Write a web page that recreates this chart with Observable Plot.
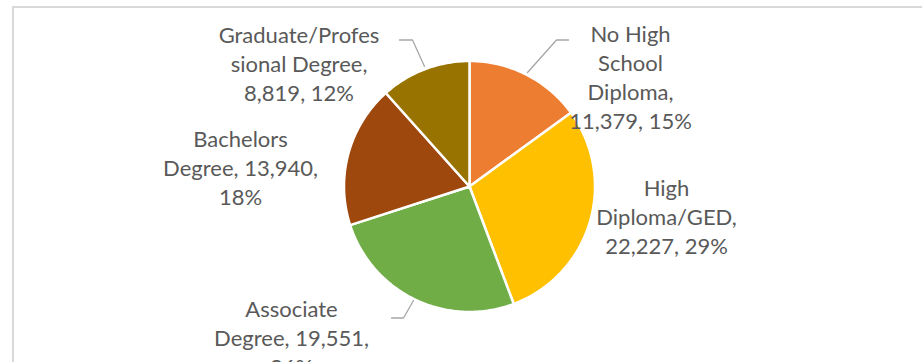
<!DOCTYPE html>
<html>
<head>
<meta charset="utf-8">
<script src="https://cdn.jsdelivr.net/npm/d3@7"></script>
<script src="https://cdn.jsdelivr.net/npm/@observablehq/plot@0.6"></script>
<style>
  html, body { margin: 0; padding: 0; background: #fff; overflow: hidden; }
  #wrap { position: relative; width: 922px; height: 362px; overflow: hidden; }
  #border { position: absolute; left: 12px; top: 6px; width: 940px; height: 400px;
            border-top: 2px solid #d9d9d9; border-left: 2px solid #d9d9d9; box-sizing: border-box; }
  #chart { position: absolute; left: 0; top: 0; }
</style>
</head>
<body>
<div id="wrap"><div id="border"></div><div id="chart"></div></div>
<script>
// ---- data ----
const categories = ["No High School Diploma", "High Diploma/GED", "Associate Degree", "Bachelors Degree", "Graduate/Professional Degree"];
const values = [11379, 22227, 19551, 13940, 8819];
const percents = ["15%", "29%", "26%", "18%", "12%"];
const labelTexts = [
  "No High\nSchool\nDiploma,\n11,379, 15%",
  "High\nDiploma/GED,\n22,227, 29%",
  "Associate\nDegree, 19,551,\n26%",
  "Bachelors\nDegree, 13,940,\n18%",
  "Graduate/Profes\nsional Degree,\n8,819, 12%"
];
const colors = ["#ED7D31", "#FFC000", "#70AD47", "#9E480E", "#997300"];

// ---- layout (pixel space) ----
const W = 922, H = 362;
const cx = 469, cy = 186, R = 125.5;
const labelPos = [[630, 76], [666, 215], [291, 336.5], [240, 166.5], [298.5, 62]];
const leaders = [
  {i: 0, pts: [[568, 39.5], [556, 39.5], [527, 72]]},
  {i: 2, pts: [[391, 317.5], [403, 317.5], [413, 300]]},
  {i: 4, pts: [[399, 39.5], [412, 39.5], [424, 66]]}
];

const data = categories.map((c, i) => ({category: c, value: values[i], pct: percents[i], label: labelTexts[i]}));
const arcs = d3.pie().sort(null).value(d => d.value)(data);

// slice polygons
const slicePts = [];
arcs.forEach(a => {
  const c = a.data.category;
  slicePts.push({category: c, x: cx, y: cy});
  const n = Math.max(8, Math.ceil((a.endAngle - a.startAngle) * 60));
  for (let k = 0; k <= n; k++) {
    const t = a.startAngle + (a.endAngle - a.startAngle) * k / n;
    slicePts.push({category: c, x: cx + R * Math.sin(t), y: cy - R * Math.cos(t)});
  }
  slicePts.push({category: c, x: cx, y: cy});
});

const labels = data.map((d, i) => ({text: d.label, x: labelPos[i][0], y: labelPos[i][1]}));
const leaderPts = leaders.flatMap(l => l.pts.map(p => ({key: categories[l.i], x: p[0], y: p[1]})));

const chart = Plot.plot({
  width: W, height: H,
  margin: 0,
  x: {domain: [0, W], range: [0, W], axis: null},
  y: {domain: [0, H], range: [0, H], axis: null},
  color: {domain: categories, range: colors},
  style: {background: "transparent"},
  marks: [
    Plot.line(slicePts, {x: "x", y: "y", z: "category", fill: "category", stroke: "white", strokeWidth: 2.5, strokeLinejoin: "round", curve: "linear"}),
    Plot.line(leaderPts, {x: "x", y: "y", z: "key", stroke: "#a6a6a6", strokeWidth: 1.3}),
    Plot.text(labels, {x: "x", y: "y", text: "text", lineAnchor: "middle", textAnchor: "middle",
      fontSize: 22, lineHeight: 1.32, fill: "#595959", fontFamily: "Lato"})
  ]
});
document.getElementById("chart").appendChild(chart);
</script>
</body>
</html>
